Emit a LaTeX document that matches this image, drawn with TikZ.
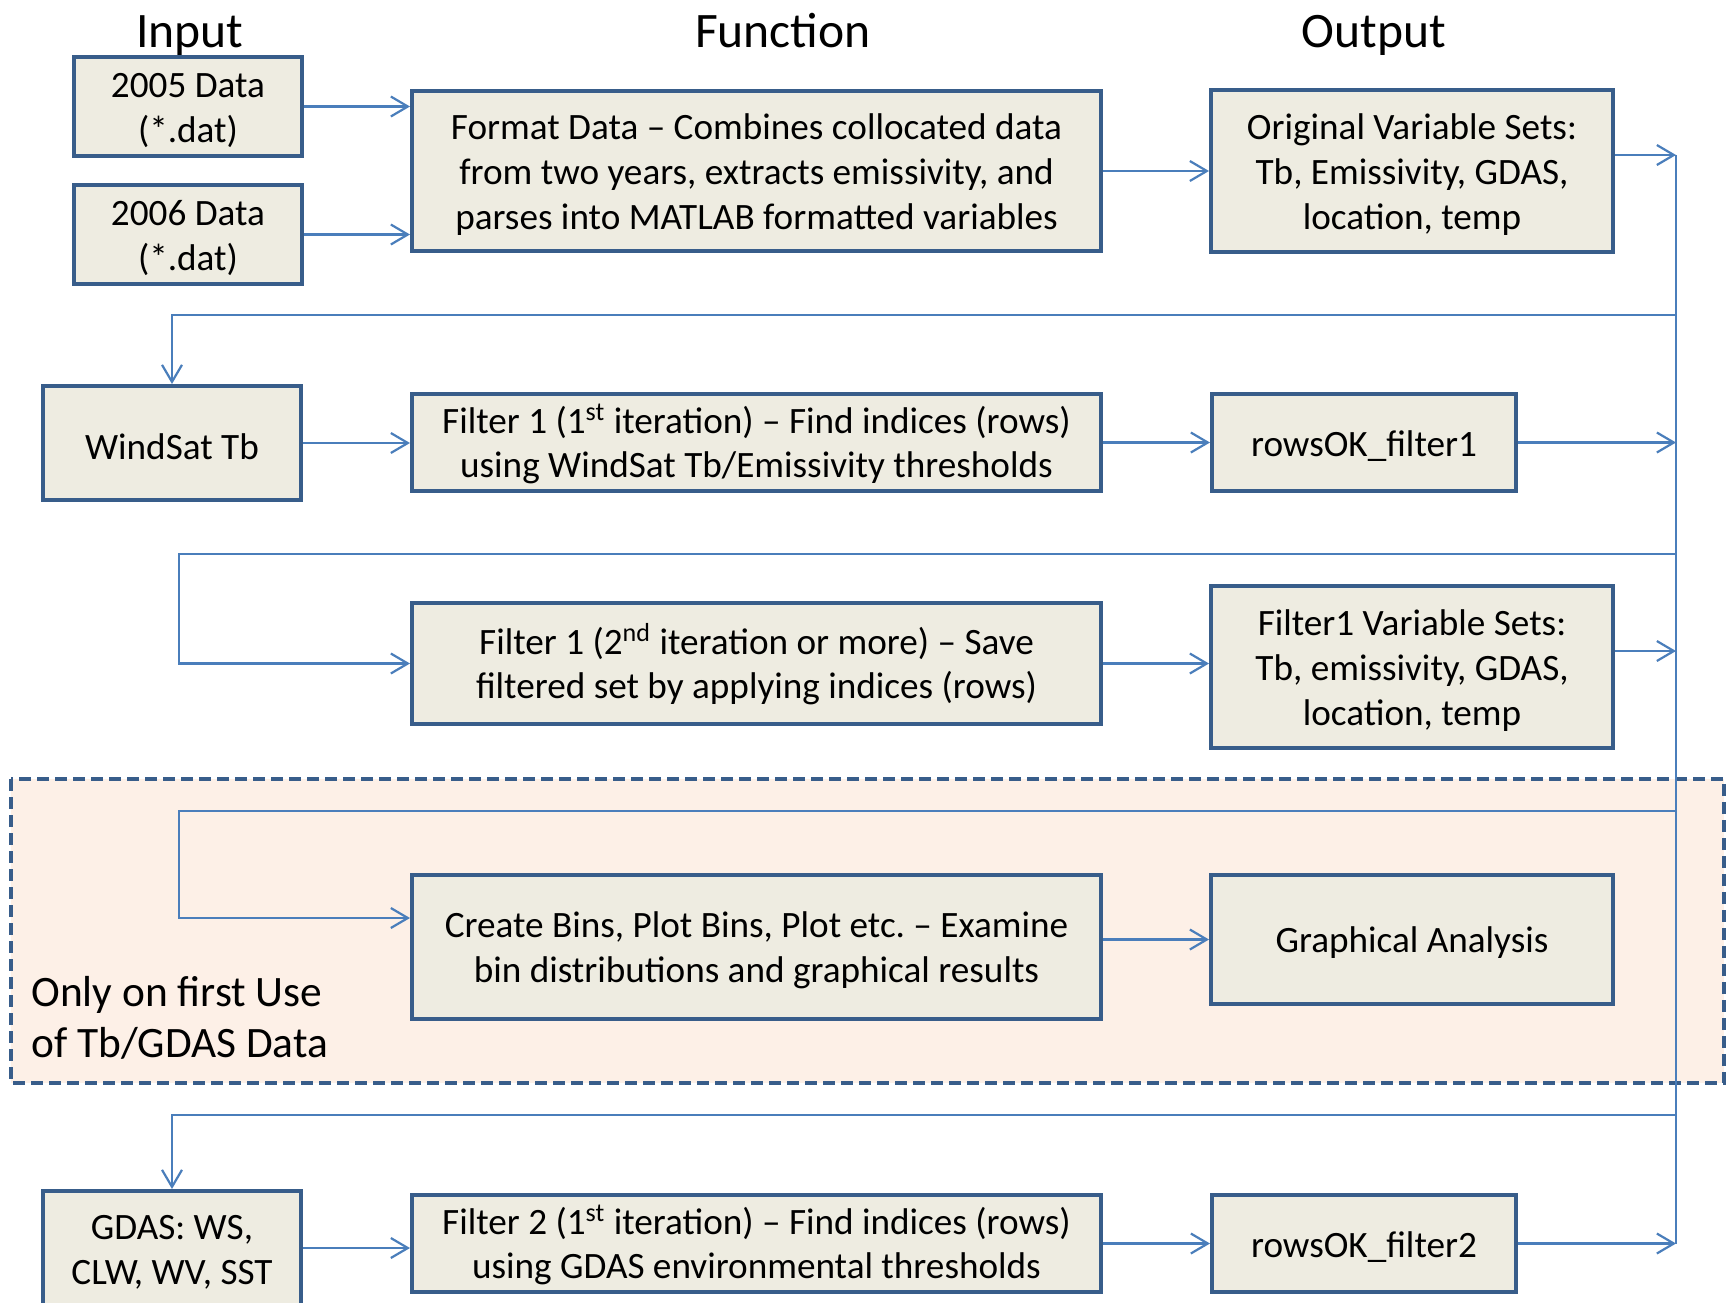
\documentclass[tikz,border=0pt]{standalone}
\usepackage{fontspec}
\setmainfont{Carlito}
\usetikzlibrary{arrows.meta, calc}

\definecolor{boxline}{HTML}{385D8A}
\definecolor{boxfill}{HTML}{EEECE1}
\definecolor{wire}{HTML}{4A7EBB}
\definecolor{onlyfill}{HTML}{FDF0E7}
\newcommand{\lineup}{\rule{0pt}{16.2pt}}

\begin{document}
\begin{tikzpicture}[x=0.5pt, y=-0.5pt,
  stage/.style={draw=boxline, fill=boxfill, line width=2pt, align=center, inner sep=0pt, font=\fontsize{18.6}{22.4}\selectfont},
  flow/.style={-{Straight Barb[length=8.5pt, width=10pt]}, wire, line width=1.1pt},
  bus/.style={wire, line width=1.1pt},
  heading/.style={anchor=base, font=\fontsize{24.8}{30}\selectfont}]
\useasboundingbox (0, 0) rectangle (1735, 1302);

\fill [onlyfill] (11, 779) rectangle (1724, 1083);
\draw [boxline, line width=2pt, dash pattern=on 6pt off 3pt] (11, 779) rectangle (1724, 1083);
\node [font=\fontsize{21.7}{25.5}\selectfont, align=left, anchor=west, inner sep=0pt] (note) at (31, 1018) {Only on first Use\\of Tb/GDAS Data};

\node [heading] (hin) at (190, 47) {Input};
\node [heading] (hfun) at (783, 47) {Function};
\node [heading] (hout) at (1374, 47) {Output};

\node [stage, minimum width=114pt, minimum height=49.5pt] (in05) at (188, 106.5) {\lineup 2005 Data\\(*.dat)};
\node [stage, minimum width=114pt, minimum height=49.5pt] (in06) at (188, 234.5) {\lineup 2006 Data\\(*.dat)};
\node [stage, minimum width=344.5pt, minimum height=80pt] (fmt) at (756.5, 171) {\lineup Format Data -- Combines collocated data\\from two years, extracts emissivity, and\\parses into MATLAB formatted variables};
\node [stage, minimum width=201pt, minimum height=81pt] (origvar) at (1412, 171) {\lineup Original Variable Sets:\\Tb, Emissivity, GDAS,\\location, temp};

\node [stage, minimum width=129pt, minimum height=57pt] (wstb) at (172, 443) {\lineup WindSat Tb};
\node [stage, minimum width=344.5pt, minimum height=48.5pt] (filt1) at (756.5, 442.5) {\lineup Filter 1 (1\textsuperscript{st} iteration) -- Find indices (rows)\\using WindSat Tb/Emissivity thresholds};
\node [stage, minimum width=152pt, minimum height=48.5pt] (ok1) at (1364, 442.5) {\lineup rowsOK\_filter1};

\node [stage, minimum width=344.5pt, minimum height=60.5pt] (filt1b) at (756.5, 663.5) {\lineup Filter 1 (2\textsuperscript{nd} iteration or more) -- Save\\filtered set by applying indices (rows)};
\node [stage, minimum width=201pt, minimum height=81pt] (f1var) at (1412, 667) {\lineup Filter1 Variable Sets:\\Tb, emissivity, GDAS,\\location, temp};

\node [stage, minimum width=344.5pt, minimum height=72pt] (bins) at (756.5, 947) {\lineup Create Bins, Plot Bins, Plot etc.\ -- Examine\\bin distributions and graphical results};
\node [stage, minimum width=201pt, minimum height=64.5pt] (graph) at (1412, 939.5) {\lineup Graphical Analysis};

\node [stage, minimum width=129pt, minimum height=57pt] (gdas) at (172, 1248) {\lineup GDAS: WS,\\CLW, WV, SST};
\node [stage, minimum width=344.5pt, minimum height=48.5pt] (filt2) at (756.5, 1243.5) {\lineup Filter 2 (1\textsuperscript{st} iteration) -- Find indices (rows)\\using GDAS environmental thresholds};
\node [stage, minimum width=152pt, minimum height=48.5pt] (ok2) at (1364, 1243.5) {\lineup rowsOK\_filter2};

\coordinate (r1) at (1676, 155);
\coordinate (r3) at (1676, 651);
\coordinate (r4) at (1676, 1243.5);
\coordinate (t1) at (1676, 315);
\coordinate (t2) at (1676, 554);
\coordinate (k2) at (179, 554);
\coordinate (t3) at (1676, 811);
\coordinate (k3) at (179, 811);
\coordinate (t4) at (1676, 1115);
\coordinate (binsin) at ($(bins.west)+(0, -29)$);

\draw [bus] (r1) -- (r4);

\draw [flow] (in05.east) -- (in05.east -| fmt.west);
\draw [flow] (in06.east) -- (in06.east -| fmt.west);
\draw [flow] (fmt.east) -- (origvar.west);
\draw [flow] (origvar.east |- r1) -- (r1);

\draw [flow] (t1) -| (wstb.north);
\draw [flow] (wstb.east) -- (wstb.east -| filt1.west);
\draw [flow] (filt1.east) -- (ok1.west);
\draw [flow] (ok1.east) -- (ok1.east -| r1);

\draw [flow] (t2) -- (k2) |- (filt1b.west);
\draw [flow] (filt1b.east) -- (filt1b.east -| f1var.west);
\draw [flow] (f1var.east |- r3) -- (r3);

\draw [flow] (t3) -- (k3) |- (binsin);
\draw [flow] (bins.east |- graph.west) -- (graph.west);

\draw [flow] (t4) -| (gdas.north);
\draw [flow] (gdas.east) -- (gdas.east -| filt2.west);
\draw [flow] (filt2.east) -- (ok2.west);
\draw [flow] (ok2.east) -- (r4);
\end{tikzpicture}
\end{document}
